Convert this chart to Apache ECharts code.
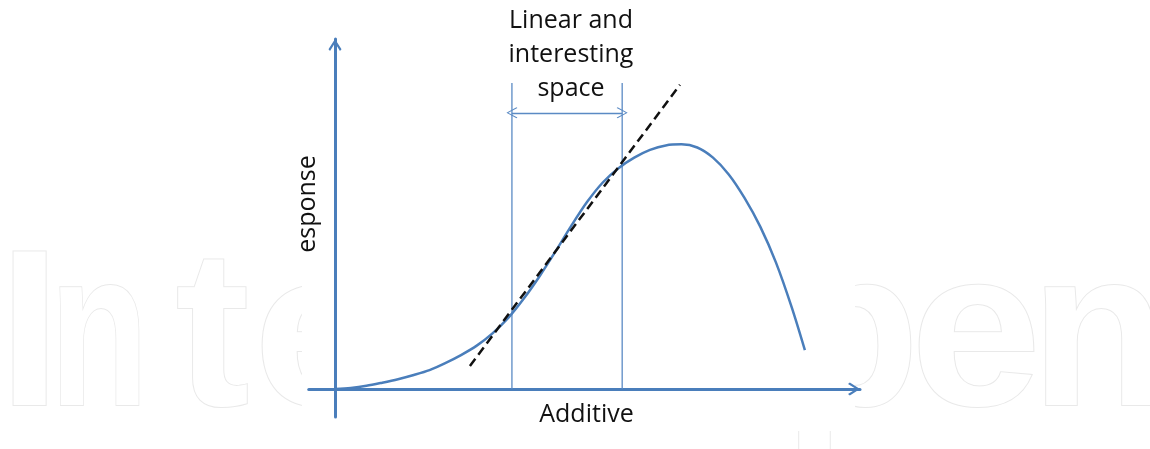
<!DOCTYPE html>
<html>
<head>
<meta charset="utf-8">
<script src="https://cdn.jsdelivr.net/npm/echarts@6.0.0/dist/echarts.min.js"></script>
<style>
  html, body { margin: 0; padding: 0; background: #ffffff; }
  #chart { width: 1150px; height: 449px; }
</style>
</head>
<body>
<div id="chart"></div>
<script>
// ---- data (arbitrary units) ----
const curveX = [0, 0.3, 0.6, 0.9, 1.2, 1.5, 1.8, 2.1, 2.4, 2.7, 3.0, 3.3, 3.6, 3.9, 4.2, 4.5, 4.8, 5.1, 5.4, 5.7, 6.0, 6.3, 6.6, 6.9, 7.2, 7.5, 7.8, 8.1, 8.4, 8.7, 8.95];
const curveY = [0, 0.03, 0.09, 0.18, 0.28, 0.40, 0.54, 0.74, 0.97, 1.24, 1.59, 2.03, 2.59, 3.23, 3.93, 4.66, 5.34, 5.90, 6.31, 6.61, 6.83, 6.96, 6.99, 6.90, 6.61, 6.13, 5.46, 4.64, 3.61, 2.33, 1.11];
const tangentX = [2.57, 6.57];
const tangentY = [0.66, 8.69];
const boundX = [3.37, 5.47];
const boundTop = 8.74;
const spanY = 7.89;
const titleLines = ['Linear and', 'interesting', 'space'];
const xName = 'Additive';
const yName = 'esponse';
const watermarkLetters = ['I', 'n', 't', 'e', 'p', 'e', 'n'];

// ---- styling ----
const BLUE = '#4a7ebb';
const THIN_BLUE = '#5a8ac4';
const chevronBold = 'path://M50,0 L100,78 L88,92 L50,30 L12,92 L0,78 Z';
const chevronThin = 'path://M50,0 L100,84 L93,92 L50,16 L7,92 L0,84 Z';

const chart = echarts.init(document.getElementById('chart'), null, { renderer: 'canvas' });

const curveData = curveX.map((x, i) => [x, curveY[i]]);
const tangentData = tangentX.map((x, i) => [x, tangentY[i]]);

const boundSeries = boundX.map((bx, i) => ({
  type: 'line',
  data: [[bx, 0], [bx, boundTop]],
  symbol: 'none',
  silent: true,
  z: 3,
  lineStyle: { color: THIN_BLUE, width: 1.3 },
  markLine: i === 0 ? {
    silent: true,
    symbol: [chevronThin, chevronThin],
    symbolSize: 11,
    label: { show: false },
    lineStyle: { color: THIN_BLUE, width: 1.3, type: 'solid' },
    emphasis: { disabled: true },
    data: [[{ coord: [boundX[0], spanY] }, { coord: [boundX[1], spanY] }]]
  } : undefined
}));

// watermark layout
const wmCenters = [29.5, 99, 212.5, 319, 851.5, 976, 1098.5];
const wmScale = [1, 0.73, 1, 1.06, 1, 1.06, 1];
const wmElements = watermarkLetters.map((ch, i) => ({
  type: 'text',
  x: wmCenters[i],
  y: 344,
  scaleX: wmScale[i],
  z: -10,
  silent: true,
  style: {
    text: ch,
    font: 'bold 222px "Liberation Sans"',
    fill: '#ffffff',
    stroke: '#e9e9e9',
    lineWidth: 2,
    align: 'center',
    verticalAlign: 'middle',
    textAlign: 'center',
    textVerticalAlign: 'middle'
  }
}));

const labelFont = '25px "Open Sans"';

const option = {
  animation: false,
  backgroundColor: '#ffffff',
  grid: { left: 308.75, right: 290, top: 39, bottom: 32, containLabel: false },
  xAxis: {
    type: 'value',
    min: -0.5,
    max: 10,
    axisLine: {
      show: true,
      onZero: true,
      symbol: ['none', chevronBold],
      symbolSize: [14, 12],
      symbolOffset: [0, -6],
      lineStyle: { color: BLUE, width: 3 }
    },
    axisTick: { show: false },
    axisLabel: { show: false },
    splitLine: { show: false }
  },
  yAxis: {
    type: 'value',
    min: -0.8,
    max: 10,
    axisLine: {
      show: true,
      onZero: true,
      symbol: ['none', chevronBold],
      symbolSize: [14, 12],
      symbolOffset: [0, -6],
      lineStyle: { color: BLUE, width: 3 }
    },
    axisTick: { show: false },
    axisLabel: { show: false },
    splitLine: { show: false }
  },
  graphic: {
    elements: [
      ...wmElements,
      {
        type: 'rect',
        z: -5,
        silent: true,
        shape: { x: 302, y: 0, width: 553, height: 431 },
        style: { fill: '#ffffff' }
      },
      {
        type: 'text',
        x: 571,
        y: 55.3,
        z: 100,
        style: {
          text: titleLines.join('\n'),
          font: labelFont,
          lineHeight: 34,
          fill: '#111111',
          align: 'center', verticalAlign: 'middle',
          textAlign: 'center', textVerticalAlign: 'middle'
        }
      },
      {
        type: 'text',
        x: 586.5,
        y: 414.6,
        z: 100,
        style: {
          text: xName,
          font: labelFont,
          fill: '#111111',
          align: 'center', verticalAlign: 'middle',
          textAlign: 'center', textVerticalAlign: 'middle'
        }
      },
      {
        type: 'text',
        x: 308.3,
        y: 204,
        rotation: Math.PI / 2,
        z: 100,
        style: {
          text: yName,
          font: labelFont,
          fill: '#111111',
          align: 'center', verticalAlign: 'middle',
          textAlign: 'center', textVerticalAlign: 'middle'
        }
      }
    ]
  },
  series: [
    ...boundSeries,
    {
      type: 'line',
      data: curveData,
      smooth: 0.3,
      symbol: 'none',
      silent: true,
      z: 4,
      lineStyle: { color: BLUE, width: 2.5 }
    },
    {
      type: 'line',
      data: tangentData,
      symbol: 'none',
      silent: true,
      z: 5,
      lineStyle: { color: '#111111', width: 2.5, type: [9, 5] }
    }
  ]
};

chart.setOption(option);
</script>
</body>
</html>
